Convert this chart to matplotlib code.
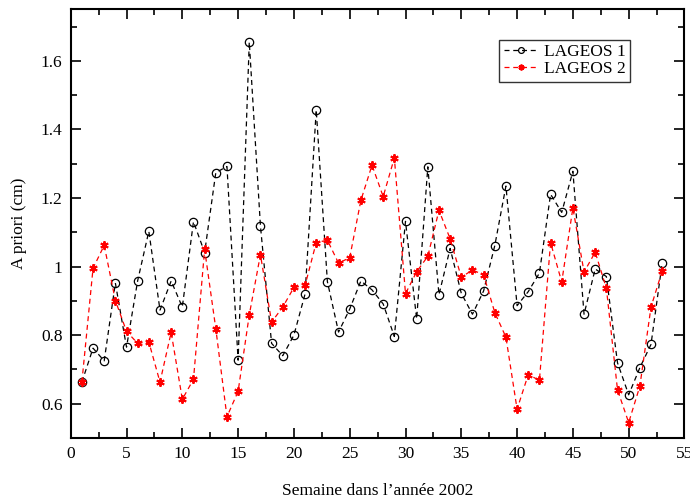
import numpy as np
import matplotlib
matplotlib.use('Agg')
import matplotlib.pyplot as plt
from matplotlib.ticker import MultipleLocator

plt.rcParams['font.family'] = ['Liberation Serif', 'DejaVu Serif']

# semaines 1..53
semaines = list(range(1, 54))

lageos1 = [0.663, 0.762, 0.725, 0.952, 0.765, 0.959, 1.103, 0.873, 0.958, 0.882,
           1.131, 1.041, 1.274, 1.292, 0.727, 1.655, 1.119, 0.776, 0.740, 0.800,
           0.920, 1.457, 0.956, 0.809, 0.876, 0.958, 0.932, 0.891, 0.796, 1.132,
           0.847, 1.291, 0.918, 1.053, 0.922, 0.861, 0.929, 1.061, 1.235, 0.886,
           0.927, 0.981, 1.211, 1.158, 1.278, 0.861, 0.993, 0.971, 0.719, 0.626,
           0.705, 0.773, 1.010]

lageos2 = [0.663, 0.995, 1.062, 0.901, 0.811, 0.776, 0.780, 0.663, 0.808, 0.613,
           0.671, 1.050, 0.819, 0.562, 0.636, 0.859, 1.035, 0.838, 0.882, 0.939,
           0.945, 1.070, 1.077, 1.010, 1.026, 1.193, 1.296, 1.204, 1.317, 0.921,
           0.985, 1.030, 1.164, 1.081, 0.969, 0.990, 0.976, 0.866, 0.794, 0.584,
           0.685, 0.668, 1.070, 0.955, 1.171, 0.984, 1.042, 0.937, 0.640, 0.545,
           0.651, 0.882, 0.987]

fig = plt.figure(figsize=(6.9, 4.98), dpi=100)
ax = fig.add_axes([0.1025, 0.1205, 0.8895, 0.8605])

ax.plot(semaines, lageos1, color='black', linestyle=(0, (4, 3)), linewidth=0.9,
        marker='o', markersize=6, markerfacecolor='none', markeredgecolor='black',
        markeredgewidth=0.9, label='LAGEOS 1')
ax.plot(semaines, lageos2, color='red', linestyle=(0, (4, 3)), linewidth=0.9,
        marker=(6, 2, 0), markersize=6, markeredgecolor='red',
        markeredgewidth=1.4, label='LAGEOS 2')

ax.set_xlim(0, 55)
ax.set_ylim(0.5, 1.75)
ax.xaxis.set_major_locator(MultipleLocator(5))
ax.xaxis.set_minor_locator(MultipleLocator(2.5))
ax.yaxis.set_minor_locator(MultipleLocator(0.1))
ax.set_yticks([0.6, 0.8, 1.0, 1.2, 1.4, 1.6])
ax.set_yticklabels(['0.6', '0.8', '1', '1.2', '1.4', '1.6'])

ax.tick_params(which='both', direction='in', top=True, right=True, labelsize=12.5,
               width=1.2, pad=6)
ax.tick_params(which='major', length=7)
ax.tick_params(which='minor', length=4)
for s in ax.spines.values():
    s.set_linewidth(1.5)

ax.set_xlabel("Semaine dans l\u2019ann\u00e9e 2002", fontsize=12.5, labelpad=15)
ax.set_ylabel('A priori (cm)', fontsize=12.5, labelpad=10)

leg = ax.legend(loc='upper right', bbox_to_anchor=(0.912, 0.929), borderaxespad=0,
                fontsize=12.5, frameon=True, fancybox=False, edgecolor='black',
                handlelength=2.0, handletextpad=0.35, borderpad=0.25,
                labelspacing=0.05, markerscale=0.7)
leg.get_frame().set_linewidth(1.0)

fig.savefig('out.png', dpi=100)
